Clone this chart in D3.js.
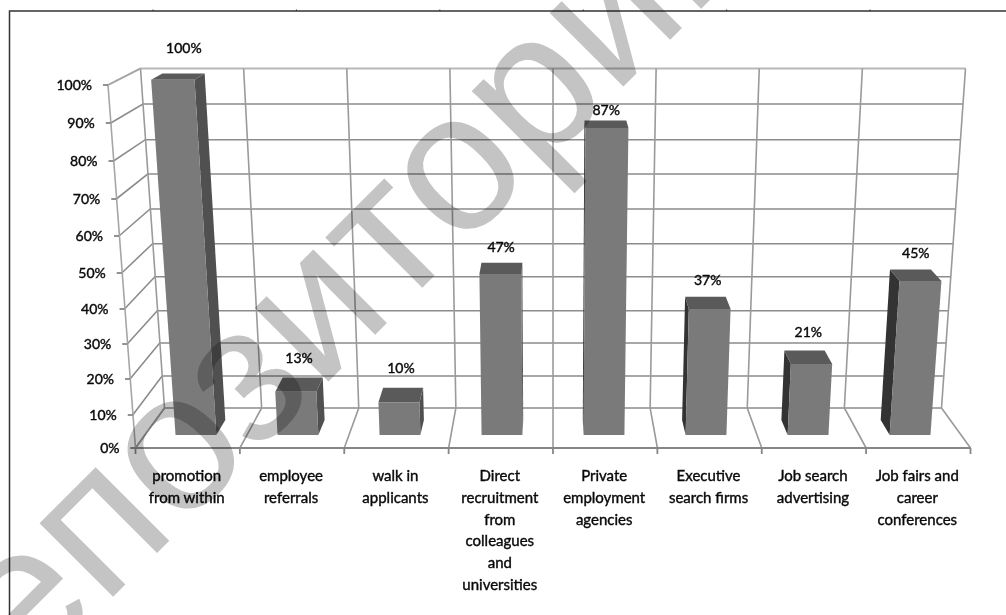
<!DOCTYPE html>
<html>
<head>
<meta charset="utf-8">
<script src="https://cdn.jsdelivr.net/npm/d3@7"></script>
<style>
  html, body { margin: 0; padding: 0; background: #fff; }
  svg { display: block; }
  text { font-family: Lato, "Open Sans", sans-serif; fill: #0a0a0a; }
</style>
</head>
<body>
<svg id="chart" width="1006" height="615"></svg>
<script>
// Recruitment sources, share of respondents per channel
const categories = [
  ["promotion", "from within"],
  ["employee", "referrals"],
  ["walk in", "applicants"],
  ["Direct", "recruitment", "from", "colleagues", "and", "universities"],
  ["Private", "employment", "agencies"],
  ["Executive", "search firms"],
  ["Job search", "advertising"],
  ["Job fairs and", "career", "conferences"]
];
const values = [100, 13, 10, 47, 87, 37, 21, 45];
const valueTicks = [0, 10, 20, 30, 40, 50, 60, 70, 80, 90, 100];

// Perspective box of the 3-D plot: front edge and back wall heights per tick
const frontY = d3.scaleLinear().domain(valueTicks)
  .range([448, 415, 379, 344, 309, 273, 236, 199, 161, 123, 85]);
const backY = d3.scaleLinear().domain(valueTicks)
  .range([408, 376, 343, 310.7, 276.7, 243.7, 209, 174, 139.7, 104, 68.5]);
const frontHalf = d3.scaleLinear().domain([0, 100]).range([417.5, 445]);
const backHalf = d3.scaleLinear().domain([0, 100]).range([388.5, 412.5]);
const across = d3.scaleLinear().domain([0, categories.length]).range([-1, 1]);
const centreX = 553;

const lerp = (a, b, t) => a + (b - a) * t;
// u: position along the categories, v: value, w: depth (0 front, 1 back)
const px = (u, v, w) => centreX + across(u) * lerp(frontHalf(v), backHalf(v), w);
const py = (v, w) => lerp(frontY(v), backY(v), w);
const pt = (u, v, w) => [px(u, v, w), py(v, w)];

const svg = d3.select("#chart");
const line = d3.line();
const slots = d3.range(categories.length + 1);
const n = categories.length;

// Frame around the figure
const frame = svg.append("g");
frame.append("path")
  .attr("d", "M9.5,615V11H1006")
  .attr("fill", "none").attr("stroke", "#333").attr("stroke-width", 1.5);
frame.selectAll("line").data(d3.range(6)).join("line")
  .attr("x1", i => 153 + 143.4 * i).attr("x2", i => 153 + 143.4 * i)
  .attr("y1", 9.5).attr("y2", 11)
  .attr("stroke", "#333");

// Grid on the walls and floor
const grid = svg.append("g").attr("fill", "none");
grid.selectAll(".h").data(valueTicks).join("path")
  .attr("class", "h")
  .attr("d", v => line([pt(0, v, 0), pt(0, v, 1), pt(n, v, 1)]))
  .attr("stroke", v => v === 100 ? "#b8b8b8" : "#8c8c8c")
  .attr("stroke-width", v => v === 100 ? 1.8 : 1.6);
grid.selectAll(".v").data(slots).join("path")
  .attr("class", "v")
  .attr("d", u => line([pt(u, 0, 0), pt(u, 0, 1), pt(u, 100, 1)]))
  .attr("stroke", "#9a9a9a").attr("stroke-width", 1.6);
grid.append("path")
  .attr("d", line([pt(0, 0, 0), pt(0, 100, 0), pt(0, 100, 1)]))
  .attr("stroke", "#a6a6a6").attr("stroke-width", 1.6);

// Front axis lines and tick marks
const axes = svg.append("g").attr("stroke", "#868686").attr("stroke-width", 1.8);
axes.append("path").attr("fill", "none")
  .attr("d", line([[px(0, 0, 0) - 5, py(0, 0)], pt(n, 0, 0)]));
axes.selectAll(".xt").data(slots).join("line")
  .attr("class", "xt")
  .attr("x1", u => px(u, 0, 0)).attr("x2", u => px(u, 0, 0))
  .attr("y1", py(0, 0)).attr("y2", py(0, 0) + 6);
axes.selectAll(".yt").data(valueTicks).join("line")
  .attr("class", "yt")
  .attr("x1", v => px(0, v, 0) - 5).attr("x2", v => px(0, v, 0))
  .attr("y1", v => py(v, 0)).attr("y2", v => py(v, 0));

// Value axis labels
svg.append("g").selectAll("text").data(valueTicks).join("text")
  .attr("x", v => px(0, v, 0) - 16)
  .attr("y", v => py(v, 0) + 1.5)
  .attr("text-anchor", "end").attr("dominant-baseline", "middle")
  .attr("font-size", 14).attr("stroke", "#0a0a0a").attr("stroke-width", 0.4)
  .text(v => v + "%");

// 3-D columns
const barLeft = 0.3, barRight = 0.7, barFront = 0.325, barBack = 0.7;
const bars = svg.append("g").selectAll("g").data(values).join("g");

// Columns left of the centre show their right flank, the others their left flank
bars.append("path")
  .attr("fill", (d, i) => i < n / 2 ? "#505050" : "#333333")
  .attr("d", (d, i) => {
    const e = i + (i < n / 2 ? barRight : barLeft);
    return line([pt(e, 0, barFront), pt(e, 0, barBack), pt(e, d, barBack), pt(e, d, barFront)]) + "Z";
  });
bars.append("path")
  .attr("fill", "#5a5a5a")
  .attr("d", (d, i) => line([
    pt(i + barLeft, d, barFront), pt(i + barLeft, d, barBack),
    pt(i + barRight, d, barBack), pt(i + barRight, d, barFront)
  ]) + "Z");
bars.append("path")
  .attr("fill", "#7a7a7a")
  .attr("d", (d, i) => line([
    pt(i + barLeft, 0, barFront), pt(i + barLeft, d, barFront),
    pt(i + barRight, d, barFront), pt(i + barRight, 0, barFront)
  ]) + "Z");

// Value labels float just behind each column's top; the full column's label clears the box
const labelDepth = 1.18;
svg.append("g").selectAll("text").data(values).join("text")
  .attr("x", (d, i) => px(i + 0.5, d, 0.5) + (d === 100 ? 6 : 0))
  .attr("y", d => py(d, labelDepth) - (d === 100 ? 16 : 0))
  .attr("text-anchor", "middle").attr("dominant-baseline", "middle")
  .attr("font-size", 14).attr("stroke", "#0a0a0a").attr("stroke-width", 0.4)
  .text(d => d + "%");

// Category labels, wrapped over several lines
const labelStart = 477, labelStep = 21.9;
const catLabels = svg.append("g").selectAll("text").data(categories).join("text")
  .attr("text-anchor", "middle")
  .attr("font-size", 15).attr("stroke", "#0a0a0a").attr("stroke-width", 0.4);
catLabels.selectAll("tspan").data((d, i) => d.map((s, k) => ({ s, k, i }))).join("tspan")
  .attr("x", d => px(d.i + 0.5, 0, 0) - 1)
  .attr("y", d => labelStart + d.k * labelStep)
  .attr("dominant-baseline", "middle")
  .text(d => d.s);

// Repository stamp across the page
svg.append("text")
  .attr("transform", "translate(-51.5,761.5) rotate(-45)")
  .style("font-family", "'Liberation Sans', Arial, sans-serif")
  .style("fill", "#c4c4c4")
  .style("mix-blend-mode", "multiply")
  .attr("font-size", 197)
  .text("репозиторий");
</script>
</body>
</html>
